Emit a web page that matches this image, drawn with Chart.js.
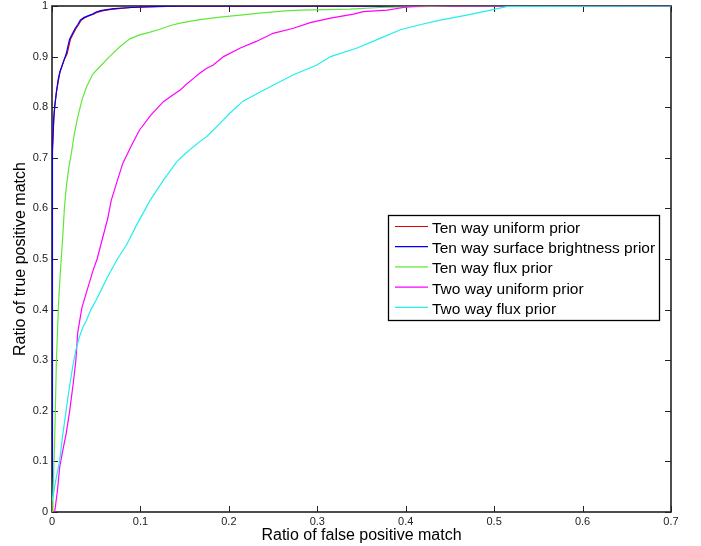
<!DOCTYPE html>
<html>
<head>
<meta charset="utf-8">
<script src="https://cdn.jsdelivr.net/npm/chart.js@4.4.0/dist/chart.umd.min.js"></script>
<style>
  body { margin: 0; background: #fff; }
  #wrap { width: 701px; height: 546px; }
</style>
</head>
<body>
<div id="wrap"><canvas id="roc" width="701" height="546"></canvas></div>
<script>
// values
var seriesNames = ['Ten way uniform prior', 'Ten way surface brightness prior', 'Ten way flux prior',
                   'Two way uniform prior', 'Two way flux prior'];
var seriesColors = ['#e00000', '#0000ff', '#5fe83a', '#ff00ff', '#22eeee'];

var tenUniformX = [0, 0, 0.001, 0.002, 0.003, 0.005, 0.007, 0.009, 0.012, 0.014, 0.017, 0.019, 0.021, 0.024, 0.027, 0.030, 0.033, 0.037, 0.042, 0.048, 0.052, 0.058, 0.065, 0.075, 0.090, 0.110, 0.130, 0.160, 0.7];
var tenUniformY = [0, 0.66, 0.71, 0.775, 0.80, 0.83, 0.85, 0.87, 0.885, 0.895, 0.905, 0.92, 0.935, 0.945, 0.955, 0.963, 0.972, 0.977, 0.981, 0.985, 0.988, 0.991, 0.993, 0.995, 0.997, 0.998, 0.999, 1, 1];

var tenSurfaceX = [0, 0, 0.001, 0.002, 0.003, 0.005, 0.007, 0.009, 0.011, 0.013, 0.016, 0.018, 0.020, 0.023, 0.026, 0.029, 0.032, 0.036, 0.040, 0.046, 0.050, 0.055, 0.062, 0.070, 0.080, 0.100, 0.120, 0.150, 0.7];
var tenSurfaceY = [0.02, 0.67, 0.72, 0.78, 0.80, 0.83, 0.855, 0.87, 0.88, 0.89, 0.905, 0.92, 0.935, 0.945, 0.955, 0.963, 0.972, 0.977, 0.980, 0.984, 0.988, 0.991, 0.993, 0.995, 0.996, 0.998, 0.999, 1, 1];

var tenFluxX = [0, 0.001, 0.003, 0.005, 0.0076, 0.010, 0.012, 0.014, 0.016, 0.019, 0.022, 0.025, 0.029, 0.034, 0.039, 0.046, 0.054, 0.065, 0.077, 0.088, 0.099, 0.110, 0.122, 0.135, 0.145, 0.167, 0.190, 0.213, 0.235, 0.260, 0.281, 0.310, 0.337, 0.371, 0.400, 0.430, 0.450, 0.7];
var tenFluxY = [0, 0.03, 0.14, 0.30, 0.42, 0.49, 0.54, 0.60, 0.64, 0.68, 0.71, 0.745, 0.78, 0.815, 0.84, 0.865, 0.88, 0.90, 0.92, 0.935, 0.943, 0.948, 0.954, 0.962, 0.966, 0.973, 0.978, 0.982, 0.986, 0.990, 0.992, 0.993, 0.994, 0.997, 0.998, 0.999, 1, 1];

var twoUniformX = [0.003, 0.006, 0.0087, 0.012, 0.016, 0.020, 0.024, 0.027, 0.029, 0.032, 0.034, 0.040, 0.046, 0.051, 0.057, 0.063, 0.067, 0.073, 0.080, 0.090, 0.099, 0.112, 0.126, 0.135, 0.145, 0.153, 0.160, 0.167, 0.175, 0.182, 0.194, 0.213, 0.231, 0.250, 0.273, 0.292, 0.315, 0.341, 0.352, 0.379, 0.401, 0.42, 0.7];
var twoUniformY = [0, 0.04, 0.089, 0.12, 0.155, 0.20, 0.254, 0.30, 0.353, 0.385, 0.405, 0.44, 0.475, 0.50, 0.54, 0.58, 0.616, 0.65, 0.689, 0.725, 0.755, 0.785, 0.811, 0.822, 0.834, 0.847, 0.857, 0.867, 0.877, 0.883, 0.900, 0.917, 0.930, 0.946, 0.956, 0.967, 0.976, 0.984, 0.989, 0.992, 0.998, 1, 1];

var twoFluxX = [0, 0.004, 0.0087, 0.012, 0.016, 0.020, 0.024, 0.027, 0.031, 0.035, 0.039, 0.044, 0.050, 0.056, 0.063, 0.074, 0.085, 0.095, 0.106, 0.111, 0.126, 0.141, 0.150, 0.160, 0.167, 0.175, 0.190, 0.201, 0.216, 0.243, 0.273, 0.299, 0.315, 0.345, 0.371, 0.394, 0.416, 0.439, 0.469, 0.496, 0.515, 0.7];
var twoFluxY = [0.02, 0.06, 0.102, 0.15, 0.201, 0.25, 0.293, 0.32, 0.346, 0.365, 0.379, 0.40, 0.419, 0.44, 0.465, 0.50, 0.53, 0.565, 0.60, 0.616, 0.656, 0.692, 0.707, 0.722, 0.732, 0.742, 0.768, 0.788, 0.812, 0.837, 0.864, 0.883, 0.900, 0.917, 0.936, 0.953, 0.963, 0.972, 0.982, 0.992, 0.999, 1];

var xTicks = [0, 0.1, 0.2, 0.3, 0.4, 0.5, 0.6, 0.7];
var yTicks = [0, 0.1, 0.2, 0.3, 0.4, 0.5, 0.6, 0.7, 0.8, 0.9, 1];
var xTitle = 'Ratio of false positive match';
var yTitle = 'Ratio of true positive match';

var FONT = '"Liberation Sans", Arial, Helvetica, sans-serif';

function pairs(xs, ys) {
  return xs.map(function (x, i) { return { x: x, y: ys[i] }; });
}
function fmt(v) { return String(Math.round(v * 10) / 10); }

var allX = [tenUniformX, tenSurfaceX, tenFluxX, twoUniformX, twoFluxX];
var allY = [tenUniformY, tenSurfaceY, tenFluxY, twoUniformY, twoFluxY];

var datasets = seriesNames.map(function (name, i) {
  return {
    label: name,
    data: pairs(allX[i], allY[i]),
    borderColor: seriesColors[i],
    backgroundColor: seriesColors[i],
    borderWidth: 1.2,
    pointRadius: 0,
    tension: 0,
    fill: false,
    order: seriesNames.length - i   // later series drawn on top, as in the figure
  };
});

// axes box with inward ticks on all four sides
var frame = {
  id: 'frame',
  beforeDatasetsDraw: function (chart) {
    var ctx = chart.ctx, a = chart.chartArea, sx = chart.scales.x, sy = chart.scales.y;
    ctx.save();
    ctx.strokeStyle = '#222';
    ctx.lineWidth = 1.6;
    ctx.strokeRect(a.left, a.top, a.right - a.left, a.bottom - a.top);
    ctx.lineWidth = 1;
    ctx.beginPath();
    xTicks.forEach(function (v) {
      var px = Math.round(sx.getPixelForValue(v)) + 0.5;
      ctx.moveTo(px, a.bottom); ctx.lineTo(px, a.bottom - 6);
      ctx.moveTo(px, a.top); ctx.lineTo(px, a.top + 6);
    });
    yTicks.forEach(function (v) {
      var py = Math.round(sy.getPixelForValue(v)) + 0.5;
      ctx.moveTo(a.left, py); ctx.lineTo(a.left + 6, py);
      ctx.moveTo(a.right, py); ctx.lineTo(a.right - 6, py);
    });
    ctx.stroke();
    ctx.restore();
  }
};

// boxed legend inside the plot, like the original
var boxLegend = {
  id: 'boxLegend',
  afterDraw: function (chart) {
    var ctx = chart.ctx;
    var left = 388, top = 215, w = 271, h = 105;
    ctx.save();
    ctx.fillStyle = '#fff';
    ctx.fillRect(left, top, w, h);
    ctx.strokeStyle = '#000';
    ctx.lineWidth = 1.3;
    ctx.strokeRect(left + 0.5, top + 0.5, w, h);
    ctx.font = '15.5px ' + FONT;
    ctx.textBaseline = 'alphabetic';
    chart.data.datasets.forEach(function (ds, i) {
      var ly = top + 11.5 + i * 20.2;
      ctx.strokeStyle = ds.borderColor;
      ctx.lineWidth = 1.2;
      ctx.beginPath();
      ctx.moveTo(left + 7, ly); ctx.lineTo(left + 40, ly);
      ctx.stroke();
      ctx.fillStyle = '#000';
      ctx.fillText(ds.label, left + 44, ly + 6.5);
    });
    ctx.restore();
  }
};

new Chart(document.getElementById('roc'), {
  type: 'line',
  data: { datasets: datasets },
  plugins: [frame, boxLegend],
  options: {
    responsive: false,
    animation: false,
    layout: { padding: { top: 6, right: 30, left: 0, bottom: 0 } },
    plugins: { legend: { display: false }, tooltip: { enabled: false } },
    scales: {
      x: {
        type: 'linear', min: 0, max: 0.7,
        grid: { display: false, drawTicks: false },
        border: { display: false },
        afterBuildTicks: function (s) { s.ticks = xTicks.map(function (v) { return { value: v }; }); },
        ticks: { padding: 3, color: '#222', maxRotation: 0, font: { family: FONT, size: 11 }, callback: fmt },
        title: { display: true, text: xTitle, color: '#000', font: { family: FONT, size: 16 }, padding: { top: 0, bottom: 0.5 } },
        afterFit: function (s) { s.height = 34; s.paddingLeft = 0; s.paddingRight = 0; }
      },
      y: {
        type: 'linear', min: 0, max: 1,
        grid: { display: false, drawTicks: false },
        border: { display: false },
        afterBuildTicks: function (s) { s.ticks = yTicks.map(function (v) { return { value: v }; }); },
        ticks: { padding: 4, color: '#222', font: { family: FONT, size: 11 }, callback: fmt },
        title: { display: true, text: yTitle, color: '#000', font: { family: FONT, size: 16 }, padding: { top: 10.5, bottom: 0 } },
        afterFit: function (s) { s.width = 52; s.paddingTop = 0; s.paddingBottom = 0; }
      }
    }
  }
});
</script>
</body>
</html>
